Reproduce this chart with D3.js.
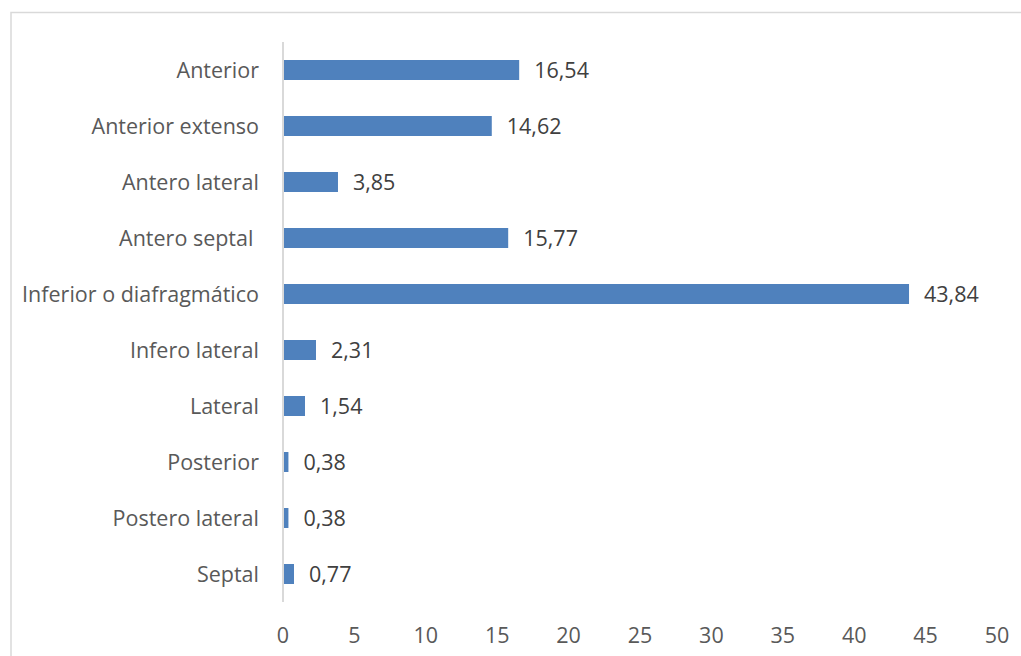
<!DOCTYPE html>
<html><head><meta charset="utf-8">
<script src="https://cdn.jsdelivr.net/npm/d3@7"></script>
<style>body{margin:0;background:#fff}svg{display:block}</style>
</head><body>
<svg id="c" width="1021" height="656"></svg>
<script>
const categories = ["Anterior","Anterior extenso","Antero lateral","Antero septal ","Inferior o diafragmático","Infero lateral","Lateral","Posterior","Postero lateral","Septal"];
const values = [16.54,14.62,3.85,15.77,43.84,2.31,1.54,0.38,0.38,0.77];
const valueLabels = ["16,54","14,62","3,85","15,77","43,84","2,31","1,54","0,38","0,38","0,77"];
const xTicks = [0,5,10,15,20,25,30,35,40,45,50];

const svg = d3.select("#c");
const font = "'Open Sans', sans-serif";
const fs = 21.5;
// chart border
svg.append("rect").attr("x",11).attr("y",12.5).attr("width",1030).attr("height",700)
  .attr("fill","none").attr("stroke","#d9d9d9").attr("stroke-width",1.5);

const x = d3.scaleLinear().domain([0,50]).range([283,997]);
const y = d3.scaleBand().domain(categories).range([42,602]).paddingInner(0.643).paddingOuter(0.3215);

svg.append("line").attr("x1",x(0)).attr("x2",x(0)).attr("y1",42).attr("y2",602)
  .attr("stroke","#d9d9d9").attr("stroke-width",2);

svg.selectAll("rect.bar").data(values).join("rect").attr("class","bar")
  .attr("x",x(0)+1).attr("y",(d,i)=>y(categories[i]))
  .attr("width",d=>x(d)-x(0)-1).attr("height",y.bandwidth()).attr("fill","#4f81bd");

svg.selectAll("text.val").data(values).join("text").attr("class","val")
  .attr("x",d=>x(d)+15).attr("y",(d,i)=>y(categories[i])+y.bandwidth()/2)
  .attr("dy","0.36em").attr("font-family",font).attr("font-size",fs).attr("fill","#404040")
  .text((d,i)=>valueLabels[i]);

svg.selectAll("text.cat").data(categories).join("text").attr("class","cat")
  .attr("x",259).attr("y",d=>y(d)+y.bandwidth()/2).attr("dy","0.36em")
  .attr("text-anchor","end").attr("font-family",font).attr("font-size",fs).attr("fill","#595959")
  .attr("xml:space","preserve").style("white-space","pre")
  .text(d=>d);

svg.selectAll("text.tick").data(xTicks).join("text").attr("class","tick")
  .attr("x",d=>x(d)).attr("y",635).attr("dy","0.36em").attr("text-anchor","middle")
  .attr("font-family",font).attr("font-size",fs).attr("fill","#595959").text(d=>d);
</script>
</body></html>
